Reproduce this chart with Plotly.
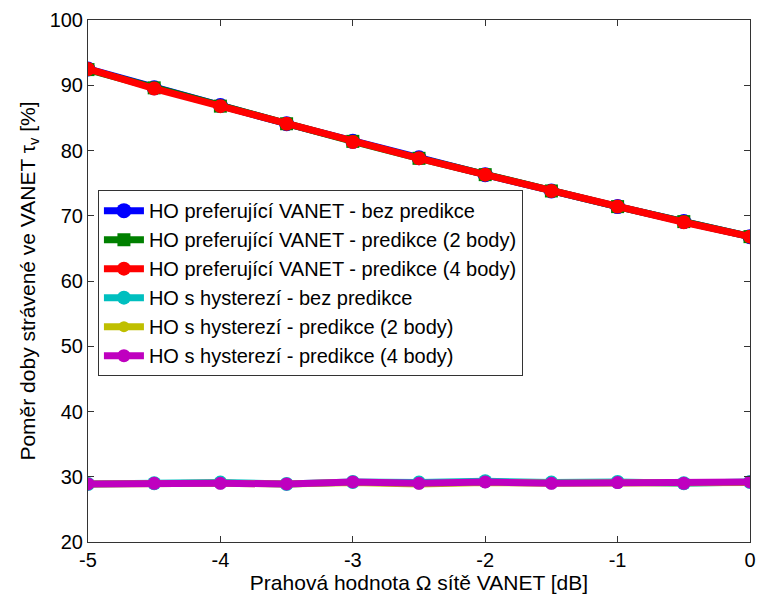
import plotly.graph_objects as go

# Threshold Omega of the VANET network [dB]
threshold_db = [-5, -4.5, -4, -3.5, -3, -2.5, -2, -1.5, -1, -0.5, 0]

# Share of time spent in VANET [%]
vanet_pref_no_pred = [92.5, 89.6, 86.9, 84.1, 81.4, 78.9, 76.3, 73.8, 71.4, 69.1, 66.8]
vanet_pref_pred2 = [92.4, 89.6, 86.8, 84.1, 81.4, 78.8, 76.3, 73.8, 71.4, 69.1, 66.8]
vanet_pref_pred4 = [92.5, 89.5, 86.8, 84.1, 81.3, 78.8, 76.3, 73.8, 71.4, 69.0, 66.8]
hyst_no_pred = [28.9, 29.0, 29.1, 28.9, 29.2, 29.1, 29.3, 29.1, 29.2, 29.0, 29.2]
hyst_pred2 = [28.9, 29.0, 29.0, 28.9, 29.1, 28.9, 29.1, 29.0, 29.1, 29.0, 29.1]
hyst_pred4 = [28.9, 29.0, 29.0, 28.9, 29.2, 29.0, 29.2, 29.0, 29.1, 29.0, 29.2]

series_names = [
    "HO preferující VANET - bez predikce",
    "HO preferující VANET - predikce (2 body)",
    "HO preferující VANET - predikce (4 body)",
    "HO s hysterezí - bez predikce",
    "HO s hysterezí - predikce (2 body)",
    "HO s hysterezí - predikce (4 body)",
]
series_values = [vanet_pref_no_pred, vanet_pref_pred2, vanet_pref_pred4,
                 hyst_no_pred, hyst_pred2, hyst_pred4]
colors = ["#0000FF", "#008000", "#FF0000", "#00BFBF", "#BFBF00", "#BF00BF"]
symbols = ["circle", "square", "circle", "circle", "circle", "circle"]
sizes = [15, 13, 14, 14, 11, 13]

fig = go.Figure()
for name, vals, col, sym, sz in zip(series_names, series_values, colors, symbols, sizes):
    fig.add_trace(go.Scatter(
        x=threshold_db, y=vals, name=name, mode="lines+markers",
        line=dict(color=col, width=7),
        marker=dict(symbol=sym, size=sz, color=col, line=dict(width=0)),
    ))

axis_common = dict(
    showline=True, linecolor="#333333", linewidth=1, mirror="ticks",
    ticks="inside", ticklen=6, tickcolor="#333333", showgrid=False, zeroline=False,
    tickfont=dict(family="Liberation Sans, Arial, sans-serif", size=20, color="black"),
)

fig.update_layout(
    width=763, height=599,
    margin=dict(l=88, r=7, t=20, b=57),
    paper_bgcolor="white", plot_bgcolor="white",
    font=dict(family="Liberation Sans, Arial, sans-serif", size=20, color="black"),
    xaxis=dict(range=[-5, 0], tickvals=[-5, -4, -3, -2, -1, 0],
               ticktext=["-5", "-4", "-3", "-2", "-1", "0"],
               title=dict(text="Prahová hodnota Ω sítě VANET [dB]", standoff=4,
                          font=dict(size=21)),
               **axis_common),
    yaxis=dict(range=[20, 100], tickvals=list(range(20, 101, 10)),
               title=dict(text="Poměr doby strávené ve VANET τ<sub>v</sub> [%]", standoff=8,
                          font=dict(size=21)),
               **axis_common),
    legend=dict(x=0.015, y=0.674, xanchor="left", yanchor="top",
                bgcolor="white", bordercolor="#333333", borderwidth=1,
                font=dict(size=20), tracegroupgap=0, itemwidth=40),
    showlegend=True,
)

fig.write_html("out.html")
